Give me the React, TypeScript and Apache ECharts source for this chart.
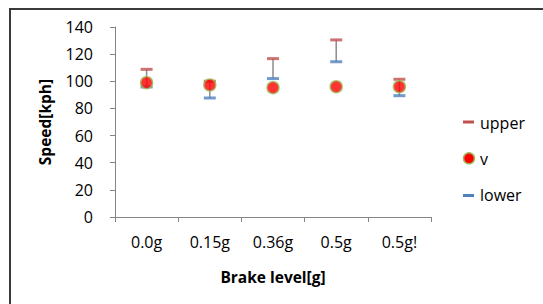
import React, { useEffect, useRef } from "react";
import * as echarts from "echarts";

const categories = ["0.0g", "0.15g", "0.36g", "0.5g", "0.5g!"];
const upperValues = [108.8, 100, 116.7, 130.5, 101.5];
const vValues = [99, 97.3, 95.3, 96, 96];
const lowerValues = [95.8, 87.7, 102, 114.4, 89.4];
const yTicks = { min: 0, max: 140, interval: 20 };

const RED_CAP = "#C0504D";
const BLUE_CAP = "#4F81BD";
const FONT = "'Open Sans', 'Liberation Sans', sans-serif";

export default function App() {
  const ref = useRef<HTMLDivElement>(null);
  useEffect(() => {
    if (!ref.current) return;
    const chart = echarts.init(ref.current, undefined, { renderer: "svg" });
    const rangeData = categories.map((_, i) => [i, lowerValues[i], upperValues[i]]);
    chart.setOption({
      animation: false,
      backgroundColor: "#ffffff",
      textStyle: { fontFamily: FONT, color: "#000" },
      grid: { left: 115, right: 112, top: 27, bottom: 87, containLabel: false },
      xAxis: {
        type: "category",
        data: categories,
        boundaryGap: true,
        axisLine: { lineStyle: { color: "#868686", width: 1 } },
        axisTick: { show: true, length: 5, lineStyle: { color: "#868686" } },
        axisLabel: { fontSize: 16, color: "#000", margin: 17, fontFamily: FONT },
        name: "Brake level[g]",
        nameLocation: "middle",
        nameGap: 52,
        nameTextStyle: { fontSize: 15.5, fontWeight: "bold", color: "#000", fontFamily: FONT },
      },
      yAxis: {
        type: "value",
        min: yTicks.min,
        max: yTicks.max,
        interval: yTicks.interval,
        splitLine: { show: false },
        axisLine: { show: true, lineStyle: { color: "#868686", width: 1 } },
        axisTick: { show: true, length: 5, lineStyle: { color: "#868686" } },
        axisLabel: { fontSize: 16, color: "#000", margin: 22, fontFamily: FONT },
        name: "Speed[kph]",
        nameLocation: "middle",
        nameGap: 62,
        nameTextStyle: { fontSize: 15.5, fontWeight: "bold", color: "#000", fontFamily: FONT },
      },
      series: [
        {
          type: "custom",
          name: "hilo",
          data: rangeData,
          encode: { x: 0, y: [1, 2] },
          z: 1,
          renderItem: (params: any, api: any) => {
            const x = api.value(0);
            const p1 = api.coord([x, api.value(1)]);
            const p2 = api.coord([x, api.value(2)]);
            return {
              type: "line",
              shape: { x1: p1[0], y1: p1[1], x2: p2[0], y2: p2[1] },
              style: { stroke: "#8c8c8c", lineWidth: 1.5 },
            };
          },
        },
        {
          type: "scatter",
          name: "upper",
          data: upperValues,
          symbol: "rect",
          symbolSize: [12, 3],
          itemStyle: { color: RED_CAP },
          z: 2,
        },
        {
          type: "scatter",
          name: "lower",
          data: lowerValues,
          symbol: "rect",
          symbolSize: [12, 3],
          itemStyle: { color: BLUE_CAP },
          z: 2,
        },
        {
          type: "scatter",
          name: "v",
          data: vValues,
          symbol: "circle",
          symbolSize: 12,
          itemStyle: { color: "#FF0000", borderColor: "#9BBB59", borderWidth: 1.5 },
          z: 3,
        },
      ],
      graphic: [
        {
          type: "rect",
          shape: { x: 10, y: 9, width: 700, height: 500 },
          style: { fill: "none", stroke: "#3a3a3a", lineWidth: 2 },
          silent: true,
        },
        { type: "rect", shape: { x: 463, y: 120.5, width: 11, height: 3 }, style: { fill: RED_CAP } },
        {
          type: "text",
          x: 480,
          y: 122.5,
          style: { text: "upper", fontSize: 16, fontFamily: FONT, fill: "#000", verticalAlign: "middle" },
        },
        {
          type: "circle",
          shape: { cx: 469, cy: 158.3, r: 5.5 },
          style: { fill: "#FF0000", stroke: "#9BBB59", lineWidth: 1.5 },
        },
        {
          type: "text",
          x: 480,
          y: 158.5,
          style: { text: "v", fontSize: 16, fontFamily: FONT, fill: "#000", verticalAlign: "middle" },
        },
        { type: "rect", shape: { x: 463, y: 194, width: 11, height: 3 }, style: { fill: BLUE_CAP } },
        {
          type: "text",
          x: 480,
          y: 195,
          style: { text: "lower", fontSize: 16, fontFamily: FONT, fill: "#000", verticalAlign: "middle" },
        },
      ],
    });
    return () => chart.dispose();
  }, []);
  return (
    <div
      ref={ref}
      style={{ position: "absolute", left: 0, top: 0, width: 543, height: 304, overflow: "hidden" }}
    />
  );
}
